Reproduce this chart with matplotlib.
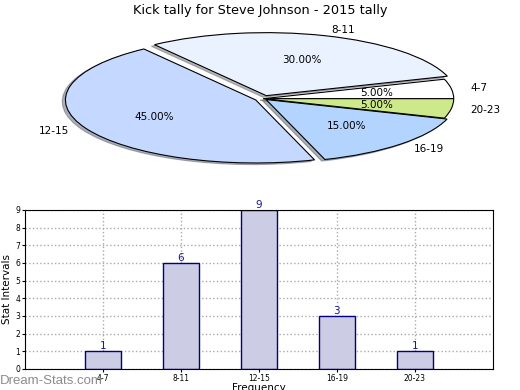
import matplotlib
matplotlib.use("Agg")
import matplotlib.pyplot as plt

intervals = ["4-7", "8-11", "12-15", "16-19", "20-23"]
counts = [1, 6, 9, 3, 1]
explode = [0, 0.05, 0.045, 0.02, 0]
pie_colors = ["#FFFFFF", "#EAF1FF", "#C5D8FF", "#B3D4FF", "#CDE98A"]

fig = plt.figure(figsize=(5.2, 3.9), dpi=100)

# pie on top, stretched into an ellipse
ax1 = fig.add_axes([0.049, 0.545, 0.915, 0.404])
wedges, texts, autotexts = ax1.pie(counts, labels=intervals, explode=explode,
                                   colors=pie_colors, autopct='%1.2f%%',
                                   shadow=dict(ox=-0.012, oy=-0.018, shade=0.55),
                                   startangle=0,
                                   wedgeprops=dict(edgecolor='black', linewidth=0.8),
                                   textprops=dict(fontsize=7.5))
ax1.set_aspect('auto')
fig.text(0.5, 0.974, "Kick tally for Steve Johnson - 2015 tally",
         ha='center', va='center', fontsize=9.3)

# bar chart below
ax2 = fig.add_axes([0.048, 0.054, 0.9, 0.408])
pos = list(range(len(intervals)))
ax2.bar(pos, counts, width=0.46, color="#CCCCE5", edgecolor="#000080", linewidth=1, zorder=2)
for x, c in zip(pos, counts):
    ax2.text(x, c, str(c), ha='center', va='bottom', color="#1A1A8C", fontsize=7.5, zorder=3)
ax2.set_xlim(-1, 5)
ax2.set_ylim(0, 9)
ax2.set_yticks(range(10))
ax2.set_xticks(pos)
ax2.set_xticklabels(intervals)
ax2.tick_params(labelsize=5.5, direction='out', length=2, pad=1.5)
ax2.grid(True, linestyle=':', color='#AAAAAA', linewidth=1, zorder=0)
ax2.set_ylabel("Stat Intervals", fontsize=7.5, labelpad=2)
ax2.set_xlabel("Frequency", fontsize=7.5, labelpad=0.5)

fig.text(0.0, 0.022, "Dream-Stats.com", color="#8C8C8C", fontsize=9.5,
         family="Liberation Sans", ha='left', va='center')

fig.savefig("out.png", dpi=100)
